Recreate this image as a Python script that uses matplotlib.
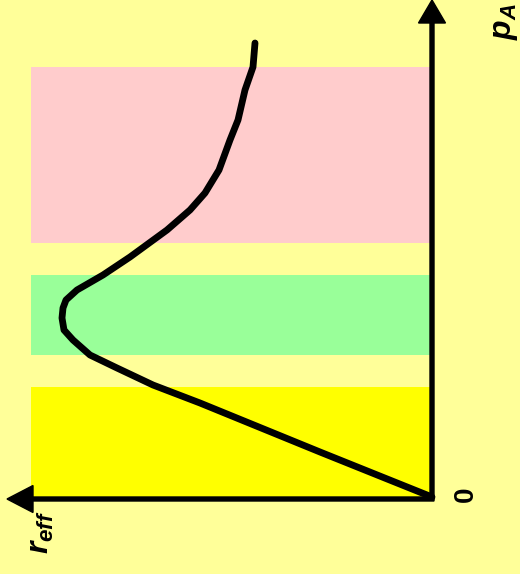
import matplotlib
matplotlib.use("Agg")
import matplotlib.pyplot as plt

plt.rcParams['mathtext.fontset'] = 'custom'
plt.rcParams['mathtext.it'] = 'Liberation Sans:bold:italic'
plt.rcParams['mathtext.rm'] = 'Liberation Sans:bold:italic'

# curve: effective rate vs p_A (arbitrary units)
r_eff = [0.0, 1.12, 2.32, 2.79, 3.15, 3.42, 3.59, 3.68, 3.70, 3.69, 3.66,
         3.55, 3.29, 3.02, 2.65, 2.42, 2.27, 2.13, 2.02, 1.94, 1.87, 1.79, 1.77]
p_A = [0.0, 0.45, 0.94, 1.12, 1.29, 1.42, 1.57, 1.67, 1.79, 1.89, 1.97,
       2.07, 2.22, 2.40, 2.67, 2.87, 3.04, 3.27, 3.57, 3.77, 4.07, 4.30, 4.54]

# shaded bands (p_A ranges) and their colours
band_lo = [0.0, 1.42, 2.54]
band_hi = [1.10, 2.22, 4.30]
band_colors = ['#FFFF00', '#99FF99', '#FFCCCC']
band_left = 4.01
band_right = 0.02

bg = '#FFFF99'
fig = plt.figure(figsize=(5.2, 5.74), dpi=100, facecolor=bg)
ax = fig.add_axes([0, 0, 1, 1])
ax.set_facecolor(bg)
ax.set_xlim(4.32, -0.88)
ax.set_ylim(-0.77, 4.97)
ax.axis('off')

for lo, hi, c in zip(band_lo, band_hi, band_colors):
    ax.fill_between([band_right, band_left], lo, hi, color=c, lw=0, zorder=1)

ax.plot(r_eff, p_A, color='black', lw=4.9, solid_capstyle='round',
        solid_joinstyle='round', zorder=3)

# axes with arrows
ax.arrow(0, -0.02, 0, 4.99, width=0.04, head_width=0.27, head_length=0.23,
         length_includes_head=True, color='black', zorder=4)
ax.arrow(-0.02, -0.02, 4.27, 0, width=0.04, head_width=0.27, head_length=0.26,
         length_includes_head=True, color='black', zorder=4)

ax.text(-0.73, 4.75, r'$p_{A}$', fontsize=23, rotation=90,
        ha='center', va='center')
ax.text(3.92, -0.35, r'$r_{eff}$', fontsize=23, rotation=90,
        ha='center', va='center')
ax.text(-0.34, 0.03, '0', fontsize=20, fontweight='bold', family='Liberation Sans',
        rotation=90, ha='center', va='center')

fig.savefig('out.png', dpi=100, facecolor=bg)
